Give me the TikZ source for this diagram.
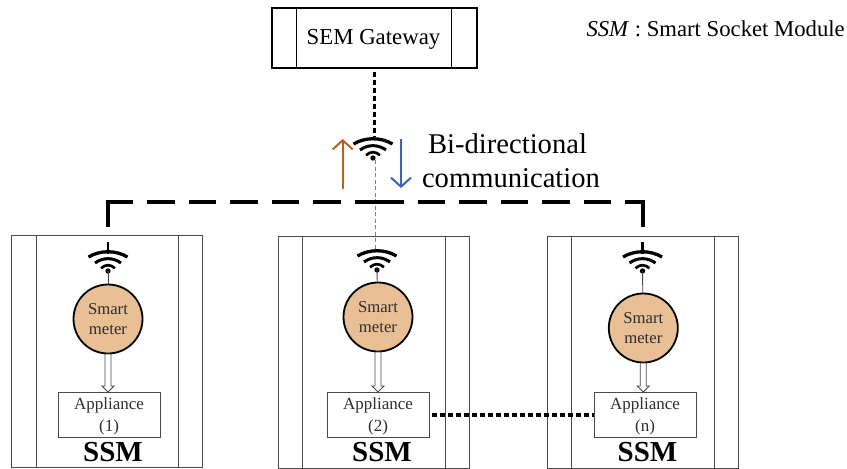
\documentclass[tikz,border=0pt]{standalone}
\usepackage{fontspec}
\setmainfont{Liberation Serif}
\usetikzlibrary{arrows.meta}
\newcommand{\fs}[1]{\fontsize{#1}{#1}\selectfont}
\definecolor{meterfill}{HTML}{E9C096}
\definecolor{boxgray}{HTML}{4A4A4A}
\definecolor{txtgray}{HTML}{2E2E2E}
\definecolor{uparrow}{HTML}{B8601F}
\definecolor{downarrow}{HTML}{3B63BE}
\tikzset{
  x=1pt,y=-1pt,
  gatebox/.style={draw=black,line width=1.9pt,minimum width=205pt,minimum height=60pt,inner sep=0pt},
  ssmbox/.style={draw=boxgray,line width=.9pt,minimum width=191pt,minimum height=232pt,inner sep=0pt},
  inner/.style={draw=boxgray,line width=.9pt},
  meter/.style={circle,draw=black,line width=1.8pt,fill=meterfill,minimum size=69pt,inner sep=0pt,text=txtgray,align=center},
  appl/.style={draw=boxgray,line width=.8pt,fill=white,minimum width=102pt,minimum height=45pt,inner sep=0pt},
  lab/.style={anchor=base,inner sep=0pt},
  stemline/.style={draw=boxgray,line width=.9pt},
  thickstem/.style={draw=black,line width=2.8pt},
  hollow/.style={draw=boxgray,line width=.8pt,fill=white},
  dotline/.style={draw=black,line width=3.2pt,dash pattern=on 5pt off 3pt},
  wifi/.pic={
    \draw[black,line width=3.3pt] (-19.5,-14) .. controls (-8,-21) and (8,-21) .. (19.5,-14);
    \draw[black,line width=3pt] (-13,-8) .. controls (-5,-13.8) and (5,-13.8) .. (13,-8);
    \draw[black,line width=2.7pt] (-7,-2.8) .. controls (-2.5,-6.8) and (2.5,-6.8) .. (7,-2.8);
    \fill[black] (0,0) circle (2.7pt);
  },
}
\begin{document}
\begin{tikzpicture}
\useasboundingbox (0,0) rectangle (847,469);
% gateway
\node[gatebox] (gw) at (374.5,38) {};
\draw[black,line width=1.4pt] (296.5,8) -- (296.5,68) (451.5,8) -- (451.5,68);
\node[lab] (gwt) at (373.5,44.5) {\fs{22.8}SEM Gateway};
\node[lab,anchor=base east] (key) at (845,36) {\fs{22.7}\textit{SSM} : Smart Socket Module};
% SSM boxes
\node[ssmbox] (s1) at (107,351) {};
\draw[inner] (36,235) -- (36,467) (178.5,235) -- (178.5,467);
\node[ssmbox] (s2) at (374,352) {};
\draw[inner] (302.7,236) -- (302.7,468) (445,236) -- (445,468);
\node[ssmbox] (s3) at (643,352) {};
\draw[inner] (571.7,236) -- (571.7,468) (714,236) -- (714,468);
% meters
\node[meter] (m1) at (108,319) {};
\node[meter] (m2) at (378,317) {};
\node[meter] (m3) at (643.3,328) {};
\foreach \m/\x/\a/\b in {m1/108/314/334,m2/378/312/332,m3/643.3/323/343}{
  \node[lab,text=txtgray] (\m a) at (\x,\a) {\fs{16.7}Smart};
  \node[lab,text=txtgray] (\m b) at (\x,\b) {\fs{16.7}meter};
}
% appliances
\node[appl] (a1) at (109,415) {};
\node[appl] (a2) at (378,415) {};
\node[appl] (a3) at (645,415) {};
\foreach \n/\x/\t in {1/109/(1),2/378/(2),3/645/(n)}{
  \node[lab,text=txtgray] (ap\n) at (\x,409) {\fs{17}Appliance};
  \node[lab,text=txtgray] (ar\n) at (\x,431) {\fs{17}\t};
}
% SSM labels
\node[lab] (l1) at (113,461.5) {\fs{29}\textbf{SSM}};
\node[lab] (l2) at (382,461.5) {\fs{29}\textbf{SSM}};
\node[lab] (l3) at (647.5,461.5) {\fs{29}\textbf{SSM}};
% wifi symbols
\coordinate (w0) at (373,158);
\coordinate (w1) at (108,271);
\coordinate (w2) at (377,270);
\coordinate (w3) at (642.5,271);
\pic at (w0) {wifi};
\pic at (w1) {wifi};
\pic at (w2) {wifi};
\pic at (w3) {wifi};
% stems
\draw[stemline] (w1) -- (m1);
\draw[stemline] (w2) -- (m2);
\draw[stemline] (w3) -- (m3);
\draw[thickstem] (108,242) -- (108,254);
\draw[thickstem] (642.5,242) -- (642.5,254);
% gateway link
\coordinate (wt) at (374.5,137);
\draw[dotline] (gw.south -| wt) ++(0,3) -- (wt);
% gray link
\coordinate (gb) at (375,250);
\draw[draw=gray,line width=1pt,dash pattern=on 4pt off 2.5pt] (375,160) -- (gb);
% bus
\coordinate (bl) at (108,227);
\coordinate (br) at (643,227);
\draw[black,line width=3.5pt,dash pattern=on 50pt off 14pt on 27.5pt off 14pt on 27.5pt off 14pt on 27.5pt off 14pt on 27.5pt off 14pt on 27.5pt off 14pt on 49pt off 14pt on 27.5pt off 14pt on 27.5pt off 14pt on 27.5pt off 14pt on 27.5pt off 14pt on 27.5pt off 14pt on 44pt off 14pt] (bl) -- (108,202) -- (643,202) -- (br);
% direction arrows
\draw[uparrow,line width=2pt,-{Straight Barb[length=9pt,width=20pt,line width=2pt]}] (342.7,189) -- (342.7,139);
\draw[downarrow,line width=2pt,-{Straight Barb[length=9pt,width=20pt,line width=2pt]}] (401,139) -- (401,188);
\node[lab] (bi) at (507.5,153) {\fs{28.6}Bi-directional};
\node[lab] (co) at (511,187) {\fs{28.6}communication};
% hollow arrows
\foreach \x/\ya/\yb in {108/354/392,378/352/392,643.3/363/392}{
  \draw[hollow] (\x-3,\ya) -- (\x+3,\ya) -- (\x+3,\yb-6) -- (\x+6,\yb-6) -- (\x,\yb) -- (\x-6,\yb-6) -- (\x-3,\yb-6) -- cycle;
}
% dotted link
\draw[dotline] (a2.east) ++(3,0) -- (a3.west);
\end{tikzpicture}
\end{document}
